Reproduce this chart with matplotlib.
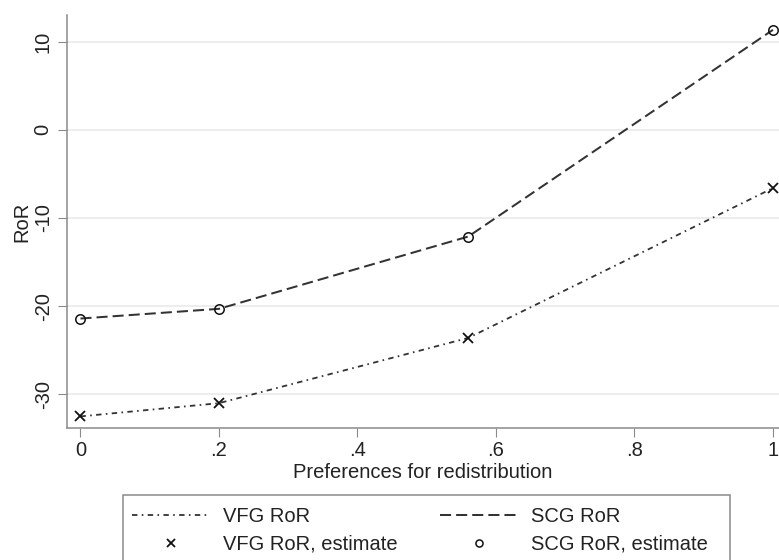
import matplotlib
matplotlib.use("Agg")
import matplotlib.pyplot as plt
from matplotlib.patches import Rectangle

plt.rcParams['font.family'] = ['Liberation Sans', 'DejaVu Sans']

# Data
pref = [0.0, 0.2, 0.56, 1.0]
vfg_ror = [-32.5, -31.0, -23.6, -6.6]
scg_ror = [-21.4, -20.3, -12.1, 11.35]
xtick_vals = [0, 0.2, 0.4, 0.6, 0.8, 1.0]
xtick_labels = ["0", ".2", ".4", ".6", ".8", "1"]
ytick_vals = [-30, -20, -10, 0, 10]
ytick_labels = ["-30", "-20", "-10", "0", "10"]

W, H = 779, 560
FS = 14.5
fig = plt.figure(figsize=(W / 100, H / 100), dpi=100)
ax = fig.add_axes([67.3 / W, 1 - 428.3 / H, 1 - 67.3 / W, (428.3 - 15) / H])

line_col = "#333333"
axis_col = "#8a8a8a"
text_col = "#222222"

ax.set_xlim(-0.019, 1.0087)
ax.set_ylim(-33.85, 13.03)

# grid
for yv in ytick_vals:
    ax.axhline(yv, color="#ececec", lw=1.3, zorder=0)

vfg_line, = ax.plot(pref, vfg_ror, color=line_col, lw=1.3,
                    dashes=(3.0, 2.4, 0.9, 2.4), label="VFG RoR", zorder=2)
scg_line, = ax.plot(pref, scg_ror, color=line_col, lw=1.45,
                    dashes=(5.5, 2.5), label="SCG RoR", zorder=2)
vfg_est, = ax.plot(pref, vfg_ror, ls="none", marker="x", ms=6.8, mew=1.3,
                   color="#111111", label="VFG RoR, estimate", zorder=3)
scg_est, = ax.plot(pref, scg_ror, ls="none", marker="o", ms=6.8, mew=1.1,
                   mfc="none", mec="#111111", label="SCG RoR, estimate", zorder=3)

for s in ["top", "right"]:
    ax.spines[s].set_visible(False)
for s in ["left", "bottom"]:
    ax.spines[s].set_color(axis_col)
    ax.spines[s].set_linewidth(1.1)

ax.set_xticks(xtick_vals)
ax.set_xticklabels(xtick_labels)
ax.set_yticks(ytick_vals)
ax.set_yticklabels(ytick_labels, rotation=90, va="center")
ax.tick_params(axis="both", length=6.5, width=0.8, color=axis_col,
               labelsize=FS, labelcolor=text_col)
ax.tick_params(axis="y", pad=4.0)
ax.tick_params(axis="x", pad=3.0)

ax.set_xlabel("Preferences for redistribution", fontsize=FS, color=text_col, labelpad=2)
ax.set_ylabel("RoR", fontsize=FS, color=text_col, labelpad=2)

# Legend
leg_handles = [vfg_line, vfg_est, scg_line, scg_est]
leg = fig.legend(handles=leg_handles, labels=[h.get_label() for h in leg_handles],
                 ncol=2, loc="upper left",
                 bbox_to_anchor=(131.7 / W, 1 - 507 / H),
                 frameon=False, fontsize=FS, handlelength=3.88,
                 handletextpad=0.65, columnspacing=2.09, borderpad=0,
                 borderaxespad=0, labelspacing=0.43, labelcolor=text_col,
                 markerscale=0.75)

fig.patches.append(Rectangle((123.3 / W, -0.05), (730 - 123.3) / W,
                             (1 - 495 / H) + 0.05, transform=fig.transFigure,
                             fill=False, edgecolor=axis_col, lw=1.1))

fig.savefig("out.png", dpi=100)
